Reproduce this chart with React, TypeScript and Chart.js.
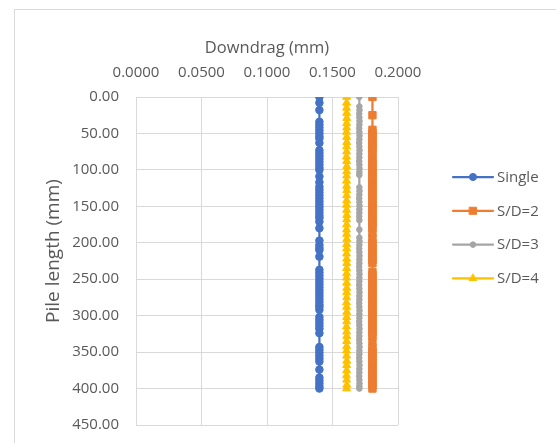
import React, { useEffect, useRef } from "react";
import { Chart, registerables } from "chart.js";
import { drawPoint } from "chart.js/helpers";

Chart.register(...registerables);

const seriesNames = ["Single", "S/D=2", "S/D=3", "S/D=4"];
const seriesColors = ["#4472C4", "#ED7D31", "#A5A5A5", "#FFC000"];
const xAxisTitle = "Downdrag (mm)";
const yAxisTitle = "Pile length (mm)";
const xMin = 0;
const xMax = 0.2;
const xStep = 0.05;
const yMin = 0;
const yMax = 450;
const yStep = 50;

// Single
const singleDepth = [
  0, 8, 18, 34, 38, 42, 46, 50, 54, 57,
  63, 73, 77, 81, 85, 89, 93, 97, 100, 109,
  117, 123, 127, 131, 135, 139, 143, 147, 151, 155,
  159, 163, 166, 171, 180, 197, 203, 207, 210, 219,
  237, 241, 245, 249, 253, 257, 261, 265, 269, 273,
  277, 281, 285, 288, 292, 302, 306, 310, 314, 318,
  324, 343, 347, 351, 355, 359, 363, 374, 385, 389,
  393, 397, 400,
];
const singleDowndrag = [
  0.1400, 0.1400, 0.1400, 0.1400, 0.1400, 0.1400, 0.1400, 0.1400, 0.1400, 0.1400,
  0.1400, 0.1400, 0.1400, 0.1400, 0.1400, 0.1400, 0.1400, 0.1400, 0.1400, 0.1400,
  0.1400, 0.1400, 0.1400, 0.1400, 0.1400, 0.1400, 0.1400, 0.1400, 0.1400, 0.1400,
  0.1400, 0.1400, 0.1400, 0.1400, 0.1400, 0.1400, 0.1400, 0.1400, 0.1400, 0.1400,
  0.1400, 0.1400, 0.1400, 0.1400, 0.1400, 0.1400, 0.1400, 0.1400, 0.1400, 0.1400,
  0.1400, 0.1400, 0.1400, 0.1400, 0.1400, 0.1400, 0.1400, 0.1400, 0.1400, 0.1400,
  0.1400, 0.1400, 0.1400, 0.1400, 0.1400, 0.1400, 0.1400, 0.1400, 0.1400, 0.1400,
  0.1400, 0.1400, 0.1400,
];

// S/D=2
const sd2Depth = [
  0, 25, 45, 49, 53, 57, 61, 65, 69, 73,
  78, 84, 88, 92, 96, 100, 104, 108, 112, 116,
  120, 124, 128, 132, 136, 140, 144, 148, 152, 156,
  160, 164, 168, 172, 176, 180, 187, 194, 200, 204,
  208, 212, 216, 220, 224, 228, 240, 244, 248, 252,
  256, 260, 264, 268, 272, 276, 280, 284, 288, 292,
  296, 300, 304, 308, 312, 316, 320, 324, 328, 336,
  344, 348, 352, 356, 360, 364, 368, 372, 376, 380,
  384, 388, 392, 396, 400,
];
const sd2Downdrag = [
  0.1805, 0.1805, 0.1805, 0.1805, 0.1805, 0.1805, 0.1805, 0.1805, 0.1805, 0.1805,
  0.1805, 0.1805, 0.1805, 0.1805, 0.1805, 0.1805, 0.1805, 0.1805, 0.1805, 0.1805,
  0.1805, 0.1805, 0.1805, 0.1805, 0.1805, 0.1805, 0.1805, 0.1805, 0.1805, 0.1805,
  0.1805, 0.1805, 0.1805, 0.1805, 0.1805, 0.1805, 0.1805, 0.1805, 0.1805, 0.1805,
  0.1805, 0.1805, 0.1805, 0.1805, 0.1805, 0.1805, 0.1805, 0.1805, 0.1805, 0.1805,
  0.1805, 0.1805, 0.1805, 0.1805, 0.1805, 0.1805, 0.1805, 0.1805, 0.1805, 0.1805,
  0.1805, 0.1805, 0.1805, 0.1805, 0.1805, 0.1805, 0.1805, 0.1805, 0.1805, 0.1805,
  0.1805, 0.1805, 0.1805, 0.1805, 0.1805, 0.1805, 0.1805, 0.1805, 0.1805, 0.1805,
  0.1805, 0.1805, 0.1805, 0.1805, 0.1805,
];

// S/D=3
const sd3Depth = [
  0, 13, 18, 23, 28, 33, 38, 43, 48, 53,
  58, 63, 68, 73, 78, 83, 88, 93, 98, 103,
  107, 124, 129, 134, 139, 144, 149, 154, 159, 164,
  169, 182, 193, 198, 203, 208, 213, 218, 223, 228,
  233, 238, 243, 248, 253, 258, 263, 268, 273, 278,
  283, 288, 293, 298, 303, 308, 313, 318, 323, 328,
  333, 338, 343, 348, 353, 358, 363, 368, 373, 378,
  383, 388, 393, 397, 400,
];
const sd3Downdrag = [
  0.1705, 0.1705, 0.1706, 0.1704, 0.1705, 0.1706, 0.1705, 0.1704, 0.1705, 0.1706,
  0.1705, 0.1704, 0.1705, 0.1706, 0.1705, 0.1705, 0.1704, 0.1705, 0.1706, 0.1705,
  0.1705, 0.1705, 0.1706, 0.1705, 0.1704, 0.1705, 0.1706, 0.1705, 0.1705, 0.1704,
  0.1705, 0.1705, 0.1705, 0.1706, 0.1705, 0.1704, 0.1705, 0.1706, 0.1705, 0.1705,
  0.1704, 0.1705, 0.1706, 0.1705, 0.1705, 0.1704, 0.1705, 0.1706, 0.1705, 0.1705,
  0.1704, 0.1705, 0.1706, 0.1705, 0.1705, 0.1704, 0.1705, 0.1706, 0.1705, 0.1705,
  0.1704, 0.1705, 0.1706, 0.1705, 0.1705, 0.1704, 0.1705, 0.1706, 0.1705, 0.1705,
  0.1704, 0.1705, 0.1706, 0.1705, 0.1705,
];

// S/D=4
const sd4Depth = [
  0, 8, 15, 22, 29, 36, 42, 48, 55, 62,
  68, 75, 82, 88, 95, 102, 108, 115, 122, 128,
  135, 142, 148, 155, 162, 168, 175, 182, 188, 195,
  202, 208, 215, 222, 228, 235, 242, 248, 255, 262,
  268, 275, 282, 288, 295, 302, 308, 315, 322, 328,
  335, 342, 348, 355, 362, 368, 375, 382, 388, 395,
  400,
];
const sd4Downdrag = [
  0.1608, 0.1608, 0.1607, 0.1608, 0.1609, 0.1608, 0.1608, 0.1607, 0.1608, 0.1609,
  0.1608, 0.1608, 0.1607, 0.1608, 0.1609, 0.1608, 0.1608, 0.1607, 0.1608, 0.1609,
  0.1608, 0.1608, 0.1607, 0.1608, 0.1609, 0.1608, 0.1608, 0.1607, 0.1608, 0.1609,
  0.1608, 0.1608, 0.1607, 0.1608, 0.1609, 0.1608, 0.1608, 0.1607, 0.1608, 0.1609,
  0.1608, 0.1608, 0.1607, 0.1608, 0.1609, 0.1608, 0.1608, 0.1607, 0.1608, 0.1609,
  0.1608, 0.1608, 0.1607, 0.1608, 0.1609, 0.1608, 0.1608, 0.1607, 0.1608, 0.1609,
  0.1608,
];

const seriesDepths = [singleDepth, sd2Depth, sd3Depth, sd4Depth];
const seriesDowndrags = [singleDowndrag, sd2Downdrag, sd3Downdrag, sd4Downdrag];
const seriesPointStyles = ["circle", "rect", "circle", "triangle"];
const seriesPointRadii = [3.8, 5.2, 2.8, 4.6];
const legendPointRadii = [3.6, 5.0, 2.8, 4.2];

const FONT = '"Open Sans", "Noto Sans", sans-serif';
const TEXT_COLOR = "#595959";
const GRID_COLOR = "#D9D9D9";

const customLegend = {
  id: "customLegend",
  afterDraw(chart: any) {
    const ctx = chart.ctx;
    const area = chart.chartArea;
    const lineX0 = area.right + 55;
    const lineX1 = area.right + 95;
    const textX = area.right + 99;
    const rowY0 = area.top + 80;
    const rowGap = 33.8;
    chart.data.datasets.forEach((ds: any, i: number) => {
      const y = rowY0 + i * rowGap;
      ctx.save();
      ctx.strokeStyle = ds.borderColor;
      ctx.lineWidth = 2.25;
      ctx.lineCap = "round";
      ctx.beginPath();
      ctx.moveTo(lineX0, y);
      ctx.lineTo(lineX1, y);
      ctx.stroke();
      ctx.fillStyle = ds.backgroundColor;
      ctx.lineWidth = 1;
      drawPoint(
        ctx,
        { pointStyle: ds.pointStyle, radius: legendPointRadii[i], borderWidth: 1, rotation: 0 } as any,
        (lineX0 + lineX1) / 2,
        y
      );
      ctx.fillStyle = TEXT_COLOR;
      ctx.font = `15px ${FONT}`;
      ctx.textBaseline = "middle";
      ctx.textAlign = "left";
      ctx.fillText(ds.label, textX, y + 0.5);
      ctx.restore();
    });
  },
};

// Y axis title drawn by hand so it can sit a little above the plot's centre, as in the reference
const yTitlePlugin = {
  id: "yTitle",
  afterDraw(chart: any) {
    const ctx = chart.ctx;
    const area = chart.chartArea;
    ctx.save();
    ctx.translate(area.left - 82, (area.top + area.bottom) / 2 - 10);
    ctx.rotate(-Math.PI / 2);
    ctx.fillStyle = TEXT_COLOR;
    ctx.font = `19px ${FONT}`;
    ctx.textAlign = "center";
    ctx.textBaseline = "middle";
    ctx.fillText(yAxisTitle, 0, 0);
    ctx.restore();
  },
};

export default function App() {
  const canvasRef = useRef<HTMLCanvasElement | null>(null);

  useEffect(() => {
    if (!canvasRef.current) return;
    const datasets = seriesNames.map((name, i) => ({
      label: name,
      data: seriesDepths[i].map((d, j) => ({ x: seriesDowndrags[i][j], y: d })),
      borderColor: seriesColors[i],
      backgroundColor: seriesColors[i],
      pointBackgroundColor: seriesColors[i],
      pointBorderColor: seriesColors[i],
      pointStyle: seriesPointStyles[i],
      pointRadius: seriesPointRadii[i],
      pointBorderWidth: 1,
      borderWidth: 2.25,
      showLine: true,
      tension: 0,
      order: seriesNames.length - i,
    }));

    const chart = new Chart(canvasRef.current, {
      type: "scatter",
      data: { datasets },
      plugins: [customLegend, yTitlePlugin],
      options: {
        responsive: false,
        animation: false,
        devicePixelRatio: 1,
        layout: { padding: { left: 0, top: 10, right: 175, bottom: 33 } },
        plugins: {
          legend: { display: false },
          tooltip: { enabled: false },
        },
        scales: {
          x: {
            type: "linear",
            position: "top",
            min: xMin,
            max: xMax,
            afterFit: (s: any) => {
              s.height = 77;
            },
            ticks: {
              stepSize: xStep,
              color: TEXT_COLOR,
              font: { family: FONT, size: 15 },
              padding: 15,
              maxRotation: 0,
              autoSkip: false,
              callback: (v: any) => Number(v).toFixed(4),
            },
            grid: { color: GRID_COLOR, lineWidth: 1, drawTicks: false },
            border: { color: GRID_COLOR, width: 1 },
            title: {
              display: true,
              text: xAxisTitle,
              color: TEXT_COLOR,
              font: { family: FONT, size: 16.5 },
              padding: { top: 18, bottom: 0 },
            },
          },
          y: {
            type: "linear",
            position: "left",
            reverse: true,
            min: yMin,
            max: yMax,
            afterFit: (s: any) => {
              s.width = 121;
            },
            ticks: {
              stepSize: yStep,
              color: TEXT_COLOR,
              font: { family: FONT, size: 15 },
              padding: 17,
              autoSkip: false,
              callback: (v: any) => Number(v).toFixed(2),
            },
            grid: { color: GRID_COLOR, lineWidth: 1, drawTicks: false },
            border: { color: GRID_COLOR, width: 1 },
            title: { display: false },
          },
        },
      } as any,
    });
    return () => chart.destroy();
  }, []);

  return (
    <div style={{ position: "fixed", left: 0, top: 0, right: 0, bottom: 0, overflow: "hidden", background: "#fff" }}>
      <div
        style={{
          position: "absolute",
          left: 14,
          top: 9,
          width: 560,
          height: 450,
          border: "1px solid #D9D9D9",
          boxSizing: "border-box",
          background: "#fff",
        }}
      >
        <canvas ref={canvasRef} width={558} height={448} style={{ display: "block", width: 558, height: 448 }} />
      </div>
    </div>
  );
}
